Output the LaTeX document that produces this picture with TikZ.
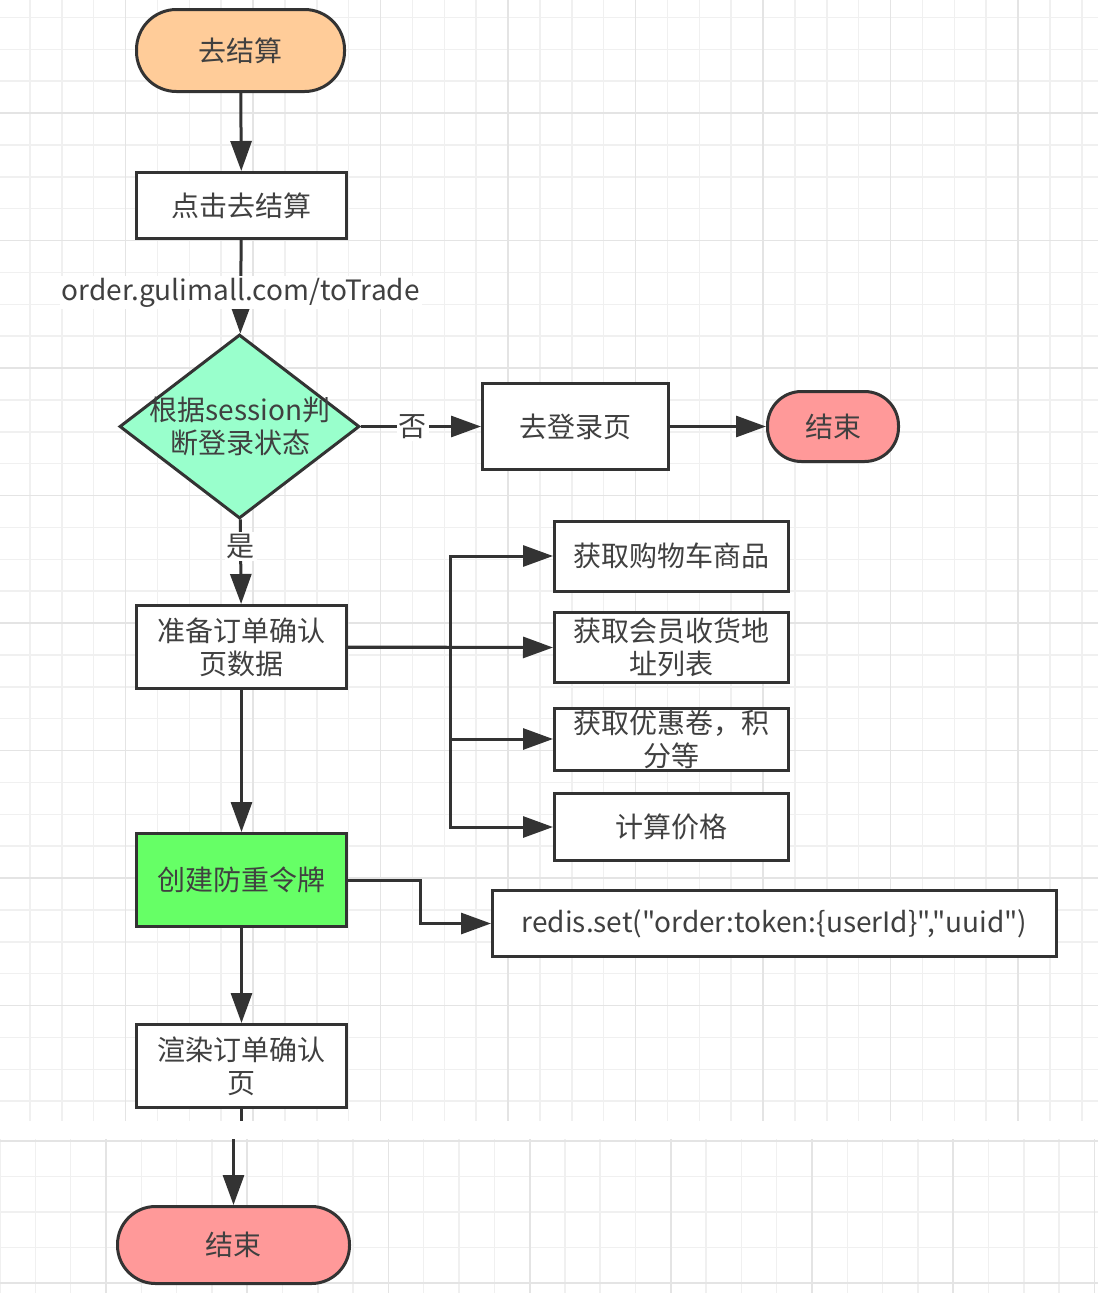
\documentclass[tikz,border=0pt]{standalone}
\usepackage{fontspec}
\setmainfont{Noto Sans CJK SC}[Ligatures=TeXOff]
\usetikzlibrary{arrows.meta,shapes.geometric,calc}
\definecolor{ln}{HTML}{333333}
\definecolor{txt}{HTML}{404040}
\definecolor{gminor}{HTML}{F0F0F0}
\definecolor{gmajor}{HTML}{E4E4E4}
\definecolor{peach}{HTML}{FFCC99}
\definecolor{pink}{HTML}{FF9999}
\definecolor{mint}{HTML}{99FFCC}
\definecolor{lgreen}{HTML}{66FF66}
\tikzset{
  gridminor/.style={draw=gminor, line width=1.5pt},
  gridmajor/.style={draw=gmajor, line width=1.8pt},
  base/.style={draw=ln, line width=3pt, text=txt, align=center, inner sep=0pt,
    font=\fontsize{28}{33}\selectfont},
  box/.style={base, rectangle, fill=white},
  term/.style={base, rectangle, rounded corners=#1},
  conn/.style={draw=ln, line width=3pt},
  arr/.style={conn, -{Triangle[length=30pt,width=21pt]}},
  lbl/.style={fill=white, text=txt, inner sep=2pt, font=\fontsize{28}{33}\selectfont}
}
\begin{document}
\begin{tikzpicture}[x=1pt,y=-1pt]
\useasboundingbox (0,0) rectangle (1098,1293);
\fill[white] (0,0) rectangle (1098,1293);
% upper grid
\begin{scope}
\clip (0,0) rectangle (1098,1121);
\foreach \i in {0,...,35} \draw[gridminor] ({-2+31.875*\i},0) -- ++(0,1121);
\foreach \i in {0,...,36} \draw[gridminor] (0,{-14.5+31.875*\i}) -- ++(1098,0);
\foreach \i in {0,...,9} \draw[gridmajor] ({-2+127.5*\i},0) -- ++(0,1121);
\foreach \i in {0,...,9} \draw[gridmajor] (0,{-14.5+127.5*\i}) -- ++(1098,0);
\end{scope}
% lower grid
\begin{scope}
\clip (0,1139) rectangle (1098,1293);
\foreach \i in {0,...,31} \draw[gridminor] ({0.1+35.3*\i},1139) -- ++(0,160);
\foreach \i in {0,...,5} \draw[gridminor] (0,{1141+35.5*\i}) -- ++(1098,0);
\foreach \i in {0,...,8} \draw[gridmajor] ({-35.2+141.2*\i},1139) -- ++(0,160);
\foreach \i in {0,1} \draw[gridmajor] (0,{1141+142*\i}) -- ++(1098,0);
\end{scope}

% nodes
\node[term=40pt, fill=peach, minimum width=208, minimum height=82] (start) at (240.5,50.5) {去结算};
\node[box, minimum width=210, minimum height=66] (click) at (241.5,205.5) {点击去结算};
\node[base, diamond, fill=mint, minimum width=240, minimum height=184] (dec) at (239.5,426.5) {};
\node[text=txt, align=center, inner sep=0pt, font=\fontsize{28}{33}\selectfont] (dectext) at (240,426) {根据session判\\断登录状态};
\node[box, minimum width=186, minimum height=86] (login) at (575.5,426.5) {去登录页};
\node[term=34pt, fill=pink, minimum width=131, minimum height=70] (end1) at (833,426.5) {结束};
\node[box, minimum width=210, minimum height=83] (prep) at (241.5,647) {准备订单确认\\页数据};
\node[box, minimum width=234, minimum height=70] (b1) at (671.5,556) {获取购物车商品};
\node[box, minimum width=234, minimum height=70] (b2) at (671.5,647.5) {获取会员收货地\\址列表};
\node[box, minimum width=234, minimum height=62] (b3) at (671.5,739) {获取优惠卷，积\\分等};
\node[box, minimum width=234, minimum height=67] (b4) at (671.5,827) {计算价格};
\node[box, fill=lgreen, minimum width=210, minimum height=93] (token) at (241.5,880) {创建防重令牌};
\node[box, minimum width=564, minimum height=66] (redis) at (774.5,923.5) {redis.set("order:token:\{userId\}","uuid")};
\node[box, minimum width=210, minimum height=83] (render) at (241.5,1066) {渲染订单确认\\页};
\node[term=38pt, fill=pink, minimum width=232, minimum height=77] (end2) at (233.5,1245) {结束};

\coordinate (bus) at (450,0);
\coordinate (elbow) at (420,0);
\coordinate (cut1) at (241.5,1121);
\coordinate (cut2) at (233.5,1139);

% connectors
\draw[arr] (start) -- (click);
\draw[arr] (click) -- (dec) node[lbl, pos=0.56] (urllbl) {order.gulimall.com/toTrade};
\draw[arr] (dec) -- (login) node[lbl, pos=0.43] (nolbl) {否};
\draw[arr] (login) -- (end1);
\draw[arr] (dec) -- (prep) node[lbl, pos=0.32] (yeslbl) {是};
\draw[arr] (prep.east) -- (b2.west);
\draw[arr] (prep.east) -| (bus |- b1.west) -- (b1.west);
\draw[arr] (prep.east) -| (bus |- b3.west) -- (b3.west);
\draw[arr] (prep.east) -| (bus |- b4.west) -- (b4.west);
\draw[arr] (prep) -- (token);
\draw[arr] (token.east) -| (elbow |- redis.west) -- (redis.west);
\draw[arr] (token) -- (render);
\draw[conn] (render.south) -- (cut1);
\draw[arr] (cut2) -- (end2);
\end{tikzpicture}
\end{document}
